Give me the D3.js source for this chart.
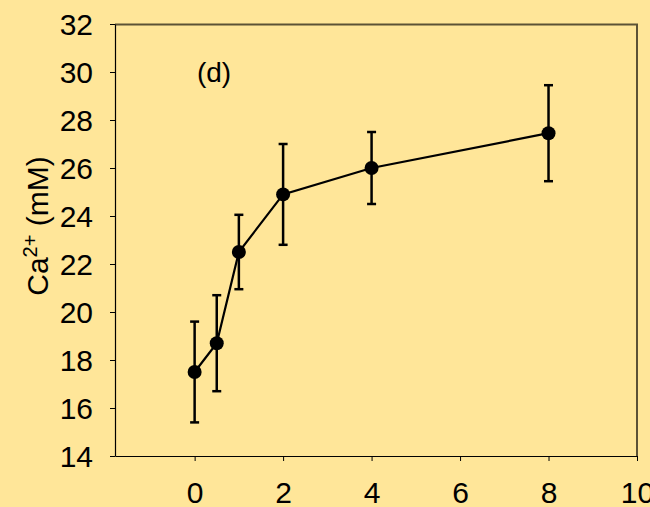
<!DOCTYPE html>
<html>
<head>
<meta charset="utf-8">
<script src="https://cdn.jsdelivr.net/npm/d3@7"></script>
<style>
  body { margin: 0; background: #FFE699; }
  svg { display: block; font-family: "Liberation Sans", Arial, sans-serif; }
</style>
</head>
<body>
<div id="wrapper"></div>
<script>
// data (time vs Ca2+ concentration)
const times = [0, 0.5, 1, 2, 4, 8];
const calcium = [17.5, 18.7, 22.5, 24.9, 26.0, 27.45];
const errors = [2.1, 2.0, 1.55, 2.1, 1.5, 2.0];
const xTicks = [0, 2, 4, 6, 8, 10];
const yTicks = [14, 16, 18, 20, 22, 24, 26, 28, 30, 32];

function drawChart() {
    const dataset = times.map((t, i) => ({ t: t, v: calcium[i], e: errors[i] }));
    const xAccessor = d => d.t;
    const yAccessor = d => d.v;

    let dimensions = {
        width: 650,
        height: 507,
        margin: { top: 24, right: 13, bottom: 51, left: 115 },
    };
    dimensions.boundedWidth = dimensions.width - dimensions.margin.left - dimensions.margin.right;
    dimensions.boundedHeight = dimensions.height - dimensions.margin.top - dimensions.margin.bottom;

    const wrapper = d3.select("#wrapper")
        .append("svg")
        .attr("width", dimensions.width)
        .attr("height", dimensions.height);

    wrapper.append("rect")
        .attr("width", dimensions.width)
        .attr("height", dimensions.height)
        .attr("fill", "#FFE699");

    const bounds = wrapper.append("g")
        .attr("transform", `translate(${dimensions.margin.left},${dimensions.margin.top})`);

    const xScale = d3.scaleLinear()
        .domain([-1.8, 10])
        .range([0, dimensions.boundedWidth]);
    const yScale = d3.scaleLinear()
        .domain([14, 32])
        .range([dimensions.boundedHeight, 0]);

    // top and right frame
    bounds.append("path")
        .attr("d", `M0,0.5 H${dimensions.boundedWidth} V${dimensions.boundedHeight}`)
        .attr("fill", "none")
        .attr("stroke", "#5c5236")
        .attr("stroke-width", 2);

    // axes
    const yAxis = bounds.append("g")
        .call(d3.axisLeft(yScale).tickValues(yTicks).tickSize(5).tickPadding(17).tickSizeOuter(0));
    const xAxis = bounds.append("g")
        .attr("transform", `translate(0,${dimensions.boundedHeight})`)
        .call(d3.axisBottom(xScale).tickValues(xTicks).tickSize(5).tickPadding(21).tickSizeOuter(0));

    [xAxis, yAxis].forEach(ax => {
        ax.select(".domain").attr("stroke", "#000").attr("stroke-width", 1.2);
        ax.selectAll(".tick line").attr("stroke", "#000").attr("stroke-width", 1);
        ax.selectAll(".tick text")
            .attr("fill", "#000")
            .style("font-size", "30px")
            .style("font-family", "Liberation Sans, Arial, sans-serif");
    });
    yAxis.selectAll(".tick text").attr("dy", "0.35em");
    xAxis.selectAll(".tick text").attr("dy", "0.71em");

    // error bars
    const errG = bounds.append("g")
        .attr("stroke", "#000")
        .attr("stroke-width", 2.5);
    dataset.forEach(d => {
        const x = xScale(xAccessor(d));
        const y1 = yScale(d.v + d.e);
        const y2 = yScale(d.v - d.e);
        errG.append("line").attr("x1", x).attr("x2", x).attr("y1", y1).attr("y2", y2);
        errG.append("line").attr("x1", x - 4.5).attr("x2", x + 4.5).attr("y1", y1).attr("y2", y1);
        errG.append("line").attr("x1", x - 4.5).attr("x2", x + 4.5).attr("y1", y2).attr("y2", y2);
    });

    const lineGenerator = d3.line()
        .x(d => xScale(xAccessor(d)))
        .y(d => yScale(yAccessor(d)));

    bounds.append("path")
        .attr("d", lineGenerator(dataset))
        .attr("fill", "none")
        .attr("stroke", "#000")
        .attr("stroke-width", 2.2);

    bounds.selectAll("circle")
        .data(dataset)
        .join("circle")
        .attr("cx", d => xScale(xAccessor(d)))
        .attr("cy", d => yScale(yAccessor(d)))
        .attr("r", 7)
        .attr("fill", "#000");

    // panel label
    bounds.append("text")
        .attr("x", 99)
        .attr("y", 58)
        .attr("text-anchor", "middle")
        .style("font-size", "28px")
        .text("(d)");

    // y axis title
    const yLabel = wrapper.append("text")
        .attr("transform", "translate(48,226) rotate(-90)")
        .attr("text-anchor", "middle")
        .style("font-size", "30px");
    yLabel.append("tspan").text("Ca");
    yLabel.append("tspan").attr("dy", -11).style("font-size", "20px").text("2+");
    yLabel.append("tspan").attr("dy", 11).text(" (mM)");
}

drawChart();
</script>
</body>
</html>
